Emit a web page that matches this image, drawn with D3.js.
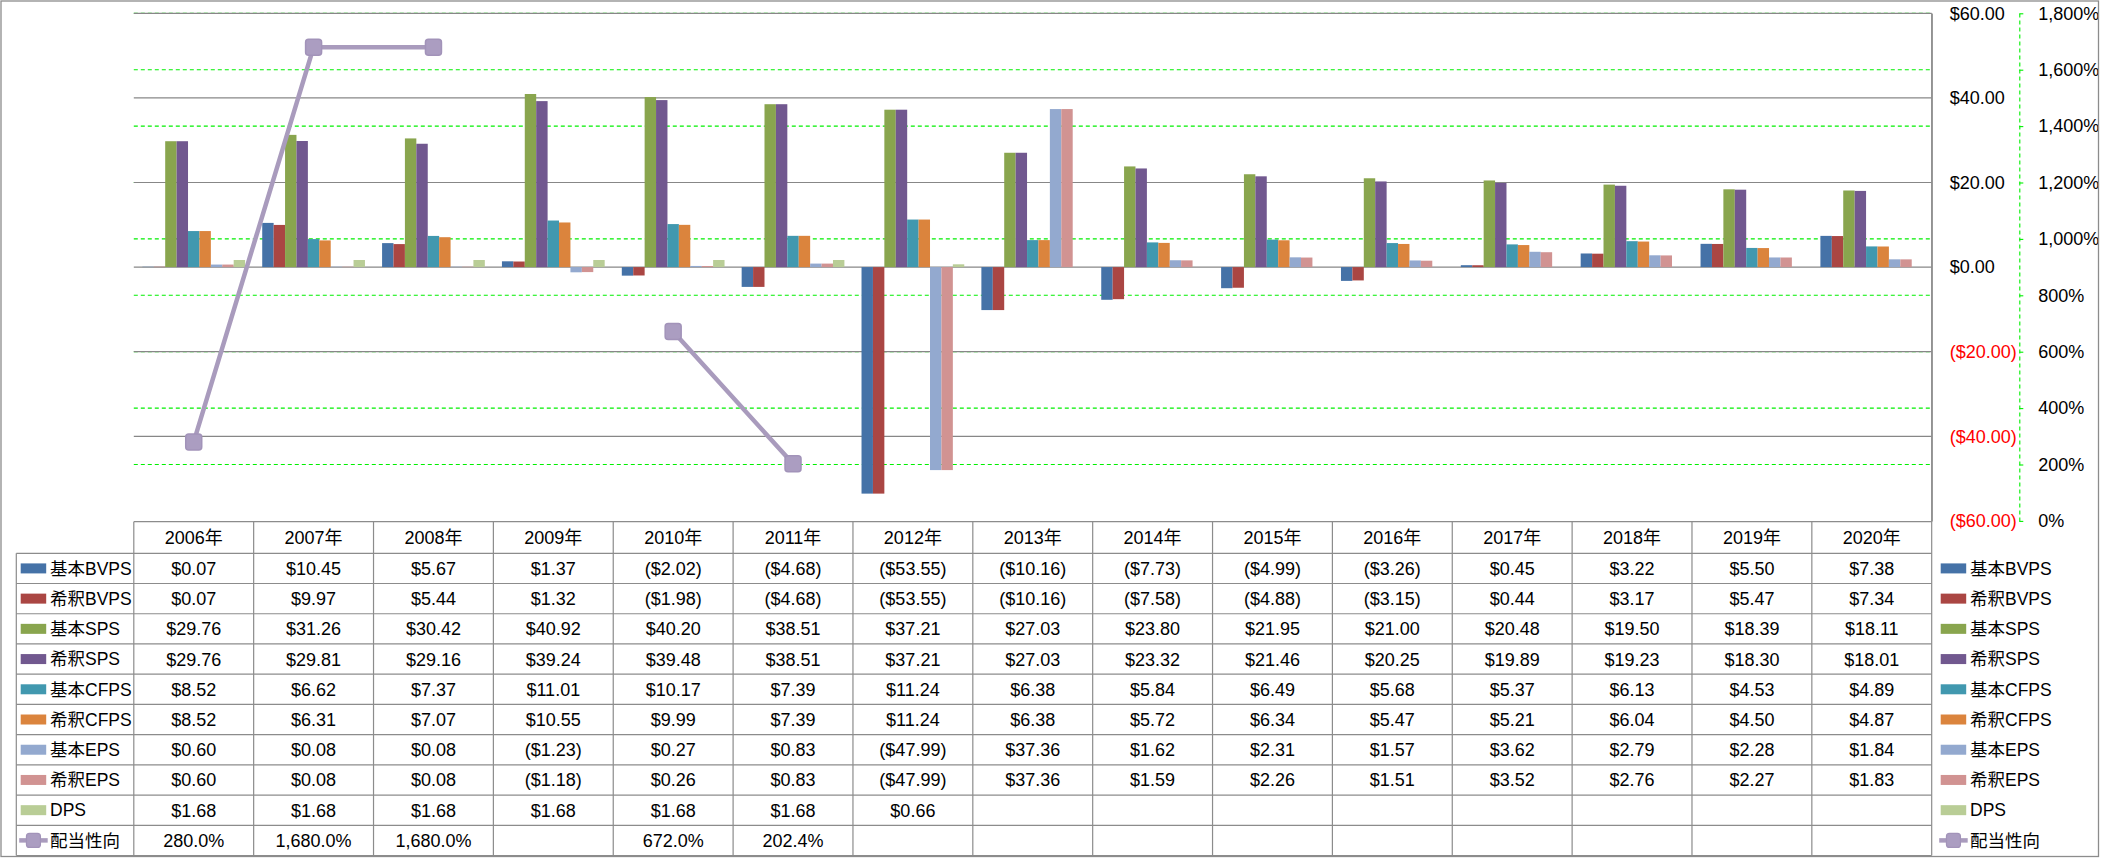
<!DOCTYPE html>
<html>
<head>
<meta charset="utf-8">
<script src="https://cdn.jsdelivr.net/npm/d3@7"></script>
<style>
  body { margin: 0; background: #fff; }
  text { font-family: "Liberation Sans", "Noto Sans CJK JP", sans-serif; }
</style>
</head>
<body>
<svg id="chart" width="2101" height="858"></svg>
<script>
// ---------------- DATA ----------------
const years = ["2006年","2007年","2008年","2009年","2010年","2011年","2012年","2013年","2014年","2015年","2016年","2017年","2018年","2019年","2020年"];
const seriesNames = ["基本BVPS","希釈BVPS","基本SPS","希釈SPS","基本CFPS","希釈CFPS","基本EPS","希釈EPS","DPS"];
const basicBVPS   = [0.07, 10.45, 5.67, 1.37, -2.02, -4.68, -53.55, -10.16, -7.73, -4.99, -3.26, 0.45, 3.22, 5.50, 7.38];
const dilutedBVPS = [0.07, 9.97, 5.44, 1.32, -1.98, -4.68, -53.55, -10.16, -7.58, -4.88, -3.15, 0.44, 3.17, 5.47, 7.34];
const basicSPS    = [29.76, 31.26, 30.42, 40.92, 40.20, 38.51, 37.21, 27.03, 23.80, 21.95, 21.00, 20.48, 19.50, 18.39, 18.11];
const dilutedSPS  = [29.76, 29.81, 29.16, 39.24, 39.48, 38.51, 37.21, 27.03, 23.32, 21.46, 20.25, 19.89, 19.23, 18.30, 18.01];
const basicCFPS   = [8.52, 6.62, 7.37, 11.01, 10.17, 7.39, 11.24, 6.38, 5.84, 6.49, 5.68, 5.37, 6.13, 4.53, 4.89];
const dilutedCFPS = [8.52, 6.31, 7.07, 10.55, 9.99, 7.39, 11.24, 6.38, 5.72, 6.34, 5.47, 5.21, 6.04, 4.50, 4.87];
const basicEPS    = [0.60, 0.08, 0.08, -1.23, 0.27, 0.83, -47.99, 37.36, 1.62, 2.31, 1.57, 3.62, 2.79, 2.28, 1.84];
const dilutedEPS  = [0.60, 0.08, 0.08, -1.18, 0.26, 0.83, -47.99, 37.36, 1.59, 2.26, 1.51, 3.52, 2.76, 2.27, 1.83];
const dps         = [1.68, 1.68, 1.68, 1.68, 1.68, 1.68, 0.66, null, null, null, null, null, null, null, null];
const lineName = "配当性向";
const payoutRatio = [280.0, 1680.0, 1680.0, null, 672.0, 202.4, null, null, null, null, null, null, null, null, null];
const dollarTicks = [-60, -40, -20, 0, 20, 40, 60];
const percentTicks = [0, 200, 400, 600, 800, 1000, 1200, 1400, 1600, 1800];

// ---------------- STYLE ----------------
const seriesColors = ["#4572A7","#AA4643","#89A54E","#71588F","#4198AF","#DB843D","#93A9CF","#D19392","#B9CD96"];
const lineColor = "#A99BBD";
const markerFill = "#AB9DC1";
const markerStroke = "#A293B9";
const gridGray = "#878787";
const green = "#00F000";
const fontSize = 18;

const seriesValues = [basicBVPS, dilutedBVPS, basicSPS, dilutedSPS, basicCFPS, dilutedCFPS, basicEPS, dilutedEPS, dps];

const svg = d3.select("#chart");
const plotLeft = 133.8, plotRight = 1931.7, plotTop = 13.3, plotBottom = 520.9;
const tableTop = 521.7, headerBottom = 553.3, tableBottom = 855.5;
const rowH = (tableBottom - headerBottom) / 10;
const legendLeft = 16.3;

// scales
const x0 = d3.scaleBand().domain(years).range([plotLeft, plotRight]).paddingInner(0).paddingOuter(0);
const x1 = d3.scaleBand().domain(seriesNames).range([0, x0.bandwidth()]).paddingInner(0).paddingOuter(0.75);
const y = d3.scaleLinear().domain([-60, 60]).range([plotBottom, plotTop]);
const yPct = d3.scaleLinear().domain([0, 1800]).range([plotBottom, plotTop]);

// background
svg.append("rect").attr("x", 0).attr("y", 0).attr("width", 2101).attr("height", 858).attr("fill", "#fff");

// secondary gridlines (green dashed)
svg.append("g").selectAll("line").data(percentTicks.filter(t => t > 0)).join("line")
  .attr("x1", plotLeft).attr("x2", plotRight)
  .attr("y1", d => yPct(d)).attr("y2", d => yPct(d))
  .attr("stroke", green).attr("stroke-width", 1.1).attr("stroke-dasharray", "4,3");

// primary gridlines (gray)
svg.append("g").selectAll("line").data(dollarTicks.filter(t => t > -60)).join("line")
  .attr("x1", plotLeft).attr("x2", plotRight)
  .attr("y1", d => y(d)).attr("y2", d => y(d))
  .attr("stroke", gridGray).attr("stroke-width", 1.2);

// bars
const groups = svg.append("g").selectAll("g").data(years).join("g")
  .attr("transform", d => `translate(${x0(d)},0)`);
groups.selectAll("rect")
  .data((yr, yi) => seriesNames.map((s, si) => ({ s, si, v: seriesValues[si][yi] })).filter(d => d.v != null))
  .join("rect")
  .attr("x", d => x1(d.s))
  .attr("width", x1.bandwidth())
  .attr("y", d => y(Math.max(0, d.v)))
  .attr("height", d => Math.abs(y(d.v) - y(0)))
  .attr("fill", d => seriesColors[d.si]);

// line series
const lineData = years.map((yr, i) => ({ yr, v: payoutRatio[i] }));
const lineGen = d3.line().defined(d => d.v != null)
  .x(d => x0(d.yr) + x0.bandwidth() / 2).y(d => yPct(d.v));
svg.append("path").datum(lineData).attr("d", lineGen)
  .attr("fill", "none").attr("stroke", lineColor).attr("stroke-width", 4.5).attr("stroke-linejoin", "round");
const ms = 16;
svg.append("g").selectAll("rect").data(lineData.filter(d => d.v != null)).join("rect")
  .attr("x", d => x0(d.yr) + x0.bandwidth() / 2 - ms / 2)
  .attr("y", d => yPct(d.v) - ms / 2)
  .attr("width", ms).attr("height", ms).attr("rx", 3)
  .attr("fill", markerFill).attr("stroke", markerStroke).attr("stroke-width", 1.5);

// primary axis (right, $)
const fmtMoney = v => v == null ? "" : (v < 0 ? "($" + d3.format(",.2f")(-v) + ")" : "$" + d3.format(",.2f")(v));
const axisY = svg.append("g").attr("transform", `translate(${plotRight},0)`)
  .call(d3.axisRight(y).tickValues(dollarTicks).tickFormat(fmtMoney).tickSize(0).tickPadding(18));
axisY.select(".domain").attr("stroke", gridGray).attr("stroke-width", 1.2);
axisY.selectAll("text").attr("font-size", fontSize).style("font-family", "'Liberation Sans', sans-serif")
  .style("fill", d => d < 0 ? "#FF0000" : "#000000");

// secondary axis (right, %)
const secX = 2019.3;
const axisP = svg.append("g").attr("transform", `translate(${secX},0)`)
  .call(d3.axisRight(yPct).tickValues(percentTicks).tickFormat(d => d3.format(",")(d) + "%").tickSize(4).tickPadding(15).tickSizeOuter(0));
axisP.select(".domain").attr("stroke", green).attr("stroke-width", 1.1).attr("stroke-dasharray", "4,3");
axisP.selectAll(".tick line").attr("stroke", green).attr("stroke-width", 1.1);
axisP.selectAll("text").attr("font-size", fontSize).style("font-family", "'Liberation Sans', sans-serif").style("fill", "#000000");

// ---------------- DATA TABLE ----------------
const tbl = svg.append("g");
const lineStyle = sel => sel.attr("stroke", "#8c8c8c").attr("stroke-width", 1.2);
// right plot border extending down through the table
tbl.append("line").attr("x1", plotRight).attr("x2", plotRight).attr("y1", plotTop).attr("y2", tableBottom).call(lineStyle);
// header top
tbl.append("line").attr("x1", plotLeft).attr("x2", plotRight).attr("y1", tableTop).attr("y2", tableTop).call(lineStyle);
// column verticals
tbl.selectAll(".vcol").data(years).join("line").attr("class", "vcol")
  .attr("x1", d => x0(d)).attr("x2", d => x0(d)).attr("y1", tableTop).attr("y2", tableBottom).call(lineStyle);
// legend column left
tbl.append("line").attr("x1", legendLeft).attr("x2", legendLeft).attr("y1", headerBottom).attr("y2", tableBottom).call(lineStyle);
// row horizontals
const rowIdx = d3.range(11);
tbl.selectAll(".hrow").data(rowIdx).join("line").attr("class", "hrow")
  .attr("x1", legendLeft).attr("x2", plotRight)
  .attr("y1", d => headerBottom + d * rowH).attr("y2", d => headerBottom + d * rowH).call(lineStyle);

// header texts
tbl.selectAll(".hdr").data(years).join("text").attr("class", "hdr")
  .attr("x", d => x0(d) + x0.bandwidth() / 2).attr("y", (tableTop + headerBottom) / 2)
  .attr("dy", "0.36em").attr("text-anchor", "middle").attr("font-size", fontSize).attr("fill", "#000").text(d => d);

// rows
const rows = seriesNames.map((s, i) => ({ name: s, vals: seriesValues[i].map(fmtMoney), color: seriesColors[i], type: "bar" }));
rows.push({ name: lineName, vals: payoutRatio.map(v => v == null ? "" : d3.format(",.1f")(v) + "%"), color: lineColor, type: "line" });

rows.forEach((r, ri) => {
  const cy = headerBottom + ri * rowH + rowH / 2;
  years.forEach((yr, yi) => {
    tbl.append("text").attr("x", x0(yr) + x0.bandwidth() / 2).attr("y", cy).attr("dy", "0.36em")
      .attr("text-anchor", "middle").attr("font-size", fontSize).attr("fill", "#000").text(r.vals[yi]);
  });
  // legend key inside table and on the right
  [[20.7, 50], [1940.7, 1970]].forEach(([kx, tx]) => {
    if (r.type === "bar") {
      tbl.append("rect").attr("x", kx).attr("y", cy - 5).attr("width", 25.5).attr("height", 10).attr("fill", r.color);
    } else {
      tbl.append("line").attr("x1", kx - 1.5).attr("x2", kx + 27).attr("y1", cy).attr("y2", cy)
        .attr("stroke", lineColor).attr("stroke-width", 4.5);
      tbl.append("rect").attr("x", kx + 12.75 - 7).attr("y", cy - 7).attr("width", 14).attr("height", 14).attr("rx", 3)
        .attr("fill", markerFill).attr("stroke", markerStroke).attr("stroke-width", 1.2);
    }
    tbl.append("text").attr("x", tx).attr("y", cy).attr("dy", "0.36em").attr("font-size", 17.5).attr("fill", "#000").text(r.name);
  });
});

// outer border
svg.append("rect").attr("x", 1).attr("y", 1).attr("width", 2097.5).attr("height", 855.5)
  .attr("fill", "none").attr("stroke", "#8c8c8c").attr("stroke-width", 1.3);
</script>
</body>
</html>
